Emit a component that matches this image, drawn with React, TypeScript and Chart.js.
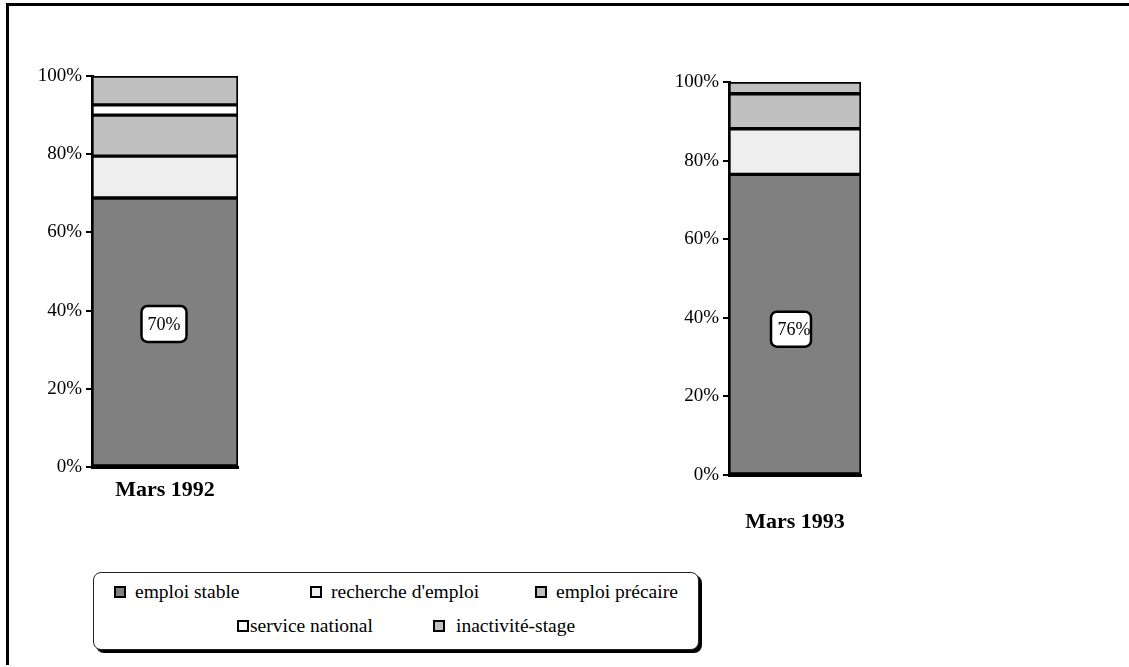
import React, { useEffect, useRef } from "react";
import { Chart, registerables } from "chart.js";

Chart.register(...registerables);

const seriesNames = ["emploi stable", "recherche d'emploi", "emploi précaire", "service national", "inactivité-stage"];
const seriesColors = ["#808080", "#eeeeee", "#c0c0c0", "#ffffff", "#c0c0c0"];
const categories1992 = ["Mars 1992"];
const categories1993 = ["Mars 1993"];
const values1992 = [68.8, 10.7, 10.5, 2.6, 7.4];
const values1993 = [76.5, 11.6, 8.9, 0, 3.0];
const stableLabel1992 = "70%";
const stableLabel1993 = "76%";
const yTickValues = [0, 20, 40, 60, 80, 100];

const SERIF = "'Liberation Serif', 'Times New Roman', serif";

const boxPlugin = {
  id: "stableBox",
  afterDatasetsDraw(chart: any, _args: any, opts: any) {
    if (!opts || !opts.text) return;
    const meta = chart.getDatasetMeta(0);
    const bar = meta.data[0];
    if (!bar) return;
    const p = bar.getProps(["x", "y", "base"], true);
    const ctx = chart.ctx;
    const cx = p.x + (opts.dx || 0);
    const cy = (p.y + p.base) / 2 + (opts.dy || 0);
    const w = opts.w;
    const h = opts.h;
    ctx.save();
    ctx.beginPath();
    ctx.roundRect(cx - w / 2, cy - h / 2, w, h, 6);
    ctx.fillStyle = "#ffffff";
    ctx.fill();
    ctx.lineWidth = 2.5;
    ctx.strokeStyle = "#000000";
    ctx.stroke();
    ctx.fillStyle = "#000000";
    ctx.font = "18px " + SERIF;
    ctx.textAlign = "center";
    ctx.textBaseline = "middle";
    ctx.fillText(opts.text, cx + (opts.tdx || 0), cy + 1);
    ctx.restore();
  },
};

function makeConfig(cats: string[], vals: number[], cfg: any) {
  return {
    type: "bar",
    data: {
      labels: cats,
      datasets: seriesNames.map((name, i) => ({
        label: name,
        data: [vals[i]],
        backgroundColor: seriesColors[i],
        borderColor: "#000000",
        borderWidth: 2,
        borderSkipped: false,
        categoryPercentage: 1,
        barPercentage: 1,
      })),
    },
    options: {
      responsive: false,
      animation: false,
      events: [],
      layout: { padding: { top: cfg.padTop, right: cfg.padRight, left: 0, bottom: 0 } },
      plugins: {
        legend: { display: false },
        tooltip: { enabled: false },
        title: { display: false },
        stableBox: cfg.box,
      },
      scales: {
        x: {
          stacked: true,
          grid: { display: false, drawTicks: false },
          border: { display: true, color: "#000000", width: 3 },
          ticks: {
            color: "#000000",
            padding: cfg.xPad,
            font: { family: SERIF, size: 22, weight: "bold" },
          },
          afterFit(scale: any) {
            scale.height = cfg.xHeight;
            scale.paddingLeft = 0;
            scale.paddingRight = 0;
          },
        },
        y: {
          stacked: true,
          min: 0,
          max: 100,
          afterBuildTicks(scale: any) {
            scale.ticks = yTickValues.map((v) => ({ value: v }));
          },
          grid: {
            display: true,
            drawOnChartArea: false,
            drawTicks: true,
            tickLength: 6,
            color: "#000000",
            lineWidth: 2,
          },
          border: { display: true, color: "#000000", width: 3 },
          ticks: {
            color: "#000000",
            padding: 4,
            font: { family: SERIF, size: 19 },
            callback: (v: any) => v + "%",
          },
          afterFit(scale: any) {
            scale.width = cfg.yWidth;
            scale.paddingTop = 0;
            scale.paddingBottom = 0;
          },
        },
      },
    },
    plugins: [boxPlugin],
  };
}

function BarChart(props: { cats: string[]; vals: number[]; cfg: any; left: number; top: number; width: number; height: number }) {
  const ref = useRef<HTMLCanvasElement | null>(null);
  useEffect(() => {
    if (!ref.current) return;
    const chart = new Chart(ref.current, makeConfig(props.cats, props.vals, props.cfg) as any);
    return () => chart.destroy();
  }, []);
  return (
    <canvas
      ref={ref}
      width={props.width}
      height={props.height}
      style={{ position: "absolute", left: props.left, top: props.top, width: props.width, height: props.height }}
    />
  );
}

const legendRow1 = [0, 1, 2];
const legendRow2 = [3, 4];

function LegendItem({ idx, x, y, gap }: { idx: number; x: number; y: number; gap: number }) {
  return (
    <div style={{ position: "absolute", left: x, top: y, display: "flex", alignItems: "center", whiteSpace: "nowrap" }}>
      <span
        style={{
          display: "inline-block",
          width: 8,
          height: 8,
          border: "2px solid #000",
          background: seriesColors[idx],
          marginRight: gap,
        }}
      />
      <span style={{ fontFamily: SERIF, fontSize: 19.5, color: "#000", lineHeight: "22px" }}>{seriesNames[idx]}</span>
    </div>
  );
}

export default function App() {
  return (
    <div style={{ position: "absolute", left: 0, top: 0, width: 1129, height: 667, overflow: "hidden", background: "#fff" }}>
      <div
        style={{
          position: "absolute",
          left: 6,
          top: 3,
          width: 1200,
          height: 662,
          borderTop: "3px solid #000",
          borderLeft: "3px solid #000",
          boxSizing: "border-box",
        }}
      />
      <BarChart
        cats={categories1992}
        vals={values1992}
        left={20}
        top={56}
        width={240}
        height={464}
        cfg={{ padTop: 20, padRight: 22, yWidth: 72, xHeight: 53, xPad: 10, box: { text: stableLabel1992, w: 45, h: 36, dx: -1, dy: -8 } }}
      />
      <BarChart
        cats={categories1993}
        vals={values1993}
        left={650}
        top={60}
        width={230}
        height={480}
        cfg={{ padTop: 22, padRight: 19, yWidth: 79, xHeight: 65, xPad: 34, box: { text: stableLabel1993, w: 40, h: 35, dx: -4, dy: 5, tdx: 3 } }}
      />
      <div
        style={{
          position: "absolute",
          left: 93,
          top: 572,
          width: 606,
          height: 78,
          border: "1px solid #222",
          borderRadius: 8,
          boxShadow: "3px 3px 0 #000",
          boxSizing: "border-box",
          background: "#fff",
        }}
      >
        <LegendItem idx={legendRow1[0]} x={20} y={8} gap={9} />
        <LegendItem idx={legendRow1[1]} x={216} y={8} gap={9} />
        <LegendItem idx={legendRow1[2]} x={441} y={8} gap={9} />
        <LegendItem idx={legendRow2[0]} x={143} y={42} gap={1} />
        <LegendItem idx={legendRow2[1]} x={339} y={42} gap={11} />
      </div>
    </div>
  );
}
